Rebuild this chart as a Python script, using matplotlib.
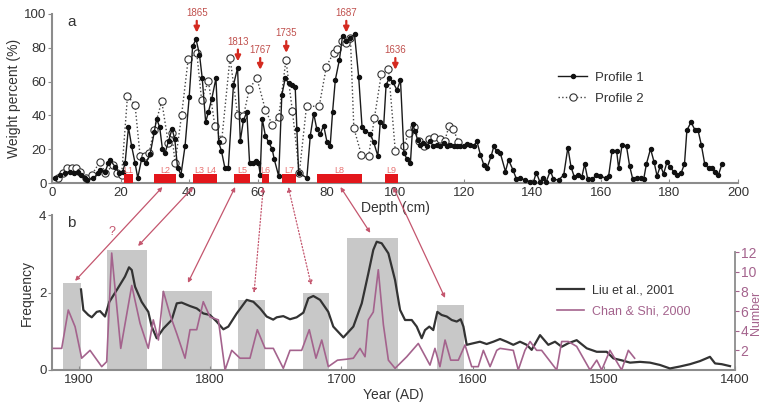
import matplotlib
matplotlib.use('Agg')
import matplotlib.pyplot as plt
from matplotlib.patches import ConnectionPatch

plt.rcParams['font.family'] = ['Liberation Sans', 'DejaVu Sans']

# ---------------- data: panel a ----------------
p1_depth = [0.9, 2.3, 3.8, 5.2, 6.4, 7.7, 8.6, 9.6, 10.1, 12.0, 13.5, 14.0, 15.5, 16.4, 16.9, 18.4,
            19.6, 20.6, 21.3, 22.3, 23.2, 24.2, 25.0, 26.1, 27.4, 28.6, 29.8, 30.5, 31.4, 32.2, 33.0,
            34.0, 35.0, 35.8, 36.6, 37.6, 38.8, 40.0, 41.0, 42.0, 43.0, 43.8, 44.8, 45.6, 46.6, 47.8,
            48.6, 49.4, 50.4, 51.4, 52.9, 54.1, 54.9, 55.8, 56.8, 57.6, 58.6, 59.4, 60.2, 60.7, 61.3,
            62.2, 63.2, 64.2, 64.8, 66.1, 67.0, 68.0, 69.0, 70.0, 70.9, 71.4, 71.9, 74.3, 75.3, 76.3,
            77.2, 78.2, 79.2, 80.2, 81.1, 81.8, 82.6, 83.8, 84.7, 85.8, 87.0, 88.2, 89.4, 90.4, 91.3,
            92.8, 93.8, 95.0, 95.7, 96.7, 97.4, 98.3, 99.3, 100.6, 101.6, 102.6, 103.5, 104.5, 105.2,
            105.8, 106.6, 107.4, 108.3, 109.3, 110.3, 111.2, 112.2, 113.2, 114.2, 115.1, 116.1, 117.1,
            118.1, 119.0, 120.0, 121.0, 122.0, 122.9, 123.9, 124.9, 125.9, 126.8, 128.0, 128.8, 129.7,
            130.7, 132.2, 133.1, 134.4, 135.4, 136.5, 138.0, 139.4, 140.4, 141.2, 142.2, 143.1, 144.1,
            145.3, 146.2, 147.7, 149.2, 150.4, 151.3, 152.3, 153.3, 154.5, 155.3, 156.2, 157.5, 158.7,
            159.9, 161.4, 162.3, 163.3, 164.6, 165.2, 166.2, 167.5, 168.4, 169.3, 170.6, 171.6, 172.5,
            173.3, 174.5, 175.5, 176.4, 177.4, 178.3, 179.3, 180.3, 181.2, 182.2, 183.4, 184.4, 185.1,
            186.3, 187.4, 188.3, 189.3, 190.3, 191.4, 192.4, 193.4, 194.3, 195.3]
p1_pct = [2.8, 4.7, 5.7, 6.7, 5.7, 6.7, 4.7, 2.8, 1.8, 2.8, 5.7, 7.7, 6.7, 11.6, 13.6, 9.7,
          5.7, 6.7, 11.6, 33, 22, 12, 3, 14, 12, 17, 30, 38, 33, 20, 18,
          25, 32, 26, 9, 5, 22, 51, 81, 85, 76, 62, 36, 42, 50, 62,
          24, 19, 9, 9, 58, 68, 25, 37, 42, 12, 12, 13, 12, 5, 38,
          28, 24, 20, 14, 4, 52, 62, 59, 58, 57, 32, 6, 3, 28, 41,
          32, 29, 34, 24, 22, 42, 61, 73, 87, 84, 86, 88, 63, 33, 31,
          29, 24, 16, 36, 34, 58, 62, 60, 55, 61, 18, 14, 12, 35,
          30.6, 25.6, 22.6, 23.6, 22, 24.6, 21.6, 22.6, 21.6, 23.6, 21.6, 22.2, 21.6,
          21.6, 22, 21.6, 23.2, 22.6, 22, 24.6, 16.7, 10.7, 8.7, 15.7, 21.6, 18.7,
          17.7, 6.8, 13.7, 7.7, 2.4, 2.8, 1.8, 0.8, 0.8, 6.2, 0.8, 2.8, 0.8,
          7.3, 2.2, 1.8, 4.8, 21, 9.7, 3.4, 4.8, 3.8, 11.3, 2.2, 2.2, 4.8,
          4.2, 2.8, 4.4, 19.2, 19.2, 8.7, 22.6, 21.6, 10.1, 2.4, 2.8, 2.8, 2.2,
          11.3, 20.2, 12.7, 4.2, 10.3, 5.4, 12.3, 9.3, 6.8, 4.8, 5.8, 11.3, 31.2,
          36, 31.6, 31.6, 22.6, 11.3, 8.7, 8.7, 6.8, 4.8, 11.1]

p2_depth = [1.8, 3.3, 4.3, 5.7, 7.0, 8.2, 9.9, 11.6, 14.0, 15.5, 17.9, 19.0, 20.3, 22.0, 24.2,
            25.7, 27.1, 28.3, 29.7, 32.0, 33.9, 34.9, 35.9, 37.8, 39.7, 42.2, 43.6, 45.6, 47.5,
            49.5, 51.9, 54.1, 55.8, 57.5, 59.7, 62.2, 64.2, 66.1, 68.2, 70.1, 72.1, 74.2, 77.9,
            80.0, 82.1, 83.2, 84.5, 85.7, 87.0, 88.0, 90.2, 92.3, 94.0, 96.0, 98.1, 100.1, 102.5,
            104.0, 105.5, 107.0, 108.5, 110.0, 111.5, 113.0, 114.5, 115.8, 117.0, 118.5]
p2_pct = [2.8, 5.8, 8.7, 8.7, 8.7, 6.7, 2.8, 4.8, 12.7, 5.8, 10.7, 5.8, 4.8, 51.4, 46.4,
          15.7, 15.7, 17.7, 31.5, 48.4, 23.6, 29.6, 11.7, 40.5, 73.2, 77.2, 49.4, 60.3, 33.5,
          25.6, 74.2, 40.5, 39.5, 55.4, 62.3, 43.4, 34.5, 39.1, 72.8, 42.4, 5.8, 45.4, 45.4,
          68.9, 77.2, 79.2, 84.1, 83.1, 86, 32.5, 16.7, 15.7, 38.5, 64.3, 67.3, 18.7, 21.6,
          29.6, 33, 25, 22, 26, 27, 26, 25, 34, 32, 24]

layer_names = ['L1', 'L2', 'L3', 'L4', 'L5', 'L6', 'L7', 'L8', 'L9']
layer_top = [21.0, 29.7, 41.1, 44.6, 53.0, 61.1, 67.0, 77.2, 97.1]
layer_bottom = [23.6, 36.1, 44.6, 48.1, 57.7, 63.4, 71.2, 90.4, 101.0]

peak_years = ['1865', '1813', '1767', '1735', '1687', '1636']
peak_depth = [42.2, 54.2, 60.7, 68.3, 85.8, 100.1]
peak_value = [89, 72, 67, 77, 89, 67]

# ---------------- data: panel b ----------------
liu_year = [1898.5, 1896.7, 1892.9, 1890.3, 1886.5, 1884.0, 1880.2, 1876.9, 1871.3, 1865.0, 1861.9,
            1859.8, 1857.3, 1852.3, 1847.2, 1844.6, 1840.8, 1835.7, 1829.4, 1825.5, 1821.8, 1815.4,
            1810.3, 1805.3, 1800.2, 1795.1, 1790.0, 1786.2, 1779.8, 1772.2, 1767.1, 1762.0, 1757.0,
            1752.0, 1749.3, 1744.3, 1739.2, 1734.1, 1729.0, 1725.2, 1721.4, 1716.3, 1710.0, 1706.2,
            1698.5, 1690.9, 1684.5, 1679.5, 1675.7, 1673.1, 1669.3, 1664.2, 1659.1, 1655.3, 1651.5,
            1646.4, 1642.6, 1638.8, 1636.3, 1633.0, 1630.0, 1626.9, 1623.6, 1619.7, 1615.9, 1612.1,
            1609.1, 1607.0, 1604.5, 1599.5, 1594.4, 1589.3, 1584.2, 1579.1, 1574.0, 1569.0, 1563.9,
            1558.8, 1555.0, 1548.6, 1542.3, 1537.2, 1532.1, 1527.1, 1520.7, 1513.0, 1505.4, 1497.8,
            1492.7, 1486.4, 1480.0, 1472.4, 1464.8, 1457.2, 1449.6, 1442.0, 1434.3, 1426.7, 1419.1,
            1415.2, 1410.1, 1403.8]
liu_freq = [2.08, 1.55, 1.42, 1.36, 1.50, 1.52, 1.38, 1.76, 2.06, 2.41, 2.65,
            2.58, 2.15, 1.76, 1.50, 1.12, 0.82, 1.07, 1.29, 1.72, 1.74, 1.65,
            1.59, 1.46, 1.42, 1.25, 1.05, 1.12, 1.46, 1.81, 1.76, 1.59, 1.38,
            1.30, 1.36, 1.39, 1.31, 1.36, 1.48, 1.85, 1.91, 1.81, 1.50, 1.12,
            0.84, 1.12, 1.72, 2.49, 3.10, 3.31, 3.27, 3.01, 2.32, 1.55, 1.29,
            1.29, 1.12, 0.82, 1.03, 1.12, 1.03, 1.50, 1.42, 1.38, 1.29, 1.25,
            1.31, 1.12, 0.65, 0.69, 0.73, 0.67, 0.73, 0.80, 0.73, 0.65, 0.73,
            0.65, 0.52, 0.90, 0.65, 0.73, 0.60, 0.69, 0.77, 0.56, 0.47, 0.47,
            0.30, 0.25, 0.19, 0.21, 0.19, 0.13, 0.04, 0.09, 0.15, 0.23, 0.34,
            0.17, 0.15, 0.10]

chan_year = [1919.6, 1913.2, 1908.2, 1903.0, 1898.0, 1891.6, 1882.7, 1878.9, 1875.1, 1868.2, 1859.8,
             1853.5, 1847.2, 1843.4, 1839.5, 1835.7, 1830.6, 1825.5, 1819.2, 1815.4, 1810.3, 1805.3,
             1800.2, 1793.8, 1788.7, 1783.6, 1777.3, 1769.7, 1764.1, 1758.2, 1751.9, 1744.3, 1739.2,
             1730.3, 1724.5, 1719.4, 1715.0, 1710.0, 1703.0, 1696.0, 1690.9, 1685.8, 1682.0, 1679.5,
             1675.7, 1671.9, 1668.0, 1664.2, 1659.1, 1650.2, 1641.4, 1632.5, 1628.7, 1624.9, 1621.0,
             1616.7, 1610.9, 1605.8, 1600.7, 1595.7, 1591.8, 1586.7, 1581.6, 1579.1, 1569.0, 1565.2,
             1560.1, 1556.2, 1551.2, 1547.4, 1535.9, 1532.1, 1527.1, 1520.7, 1510.5, 1505.4, 1501.6,
             1495.3, 1486.4, 1481.3, 1476.5]
chan_num = [2.2, 2.2, 6.1, 4.4, 1.2, 2.0, 0.34, 0.85, 11.9, 2.2, 8.6,
            4.75, 2.2, 5.1, 3.05, 8.0, 5.6, 3.7, 1.2, 4.1, 4.1, 6.95,
            5.4, 5.1, 0.0, 2.0, 1.2, 1.2, 4.1, 2.2, 2.2, 0.17, 2.0,
            2.0, 4.1, 1.2, 3.05, 0.34, 1.0, 1.1, 1.2, 2.2, 1.35, 5.1,
            5.9, 10.2, 4.6, 1.0, 0.17, 1.35, 2.7, 0.5, 2.2, 0.34, 3.05,
            1.0, 1.0, 2.55, 0.34, 0.34, 2.0, 0.34, 2.0, 2.2, 2.0, 0.0,
            2.0, 2.9, 2.0, 2.0, 0.0, 2.9, 2.9, 2.4, 0.0, 1.0, 0.0,
            2.0, 0.0, 2.0, 1.2]

period_start = [1912.4, 1878.4, 1837.0, 1778.6, 1729.5, 1696.0, 1627.4]
period_end = [1898.5, 1848.4, 1798.9, 1758.0, 1709.2, 1657.0, 1606.6]
period_height = [2.25, 3.1, 2.05, 1.81, 1.99, 3.4, 1.68]

# links: depth of layer (panel a) -> (year, frequency) in panel b
link_depth = [32.2, 41.2, 53.4, 61.6, 68.9, 84.1, 99.5]
link_year = [1903.0, 1855.0, 1817.0, 1766.6, 1723.0, 1678.0, 1621.0]
link_freq = [2.3, 3.2, 2.25, 1.99, 2.19, 3.54, 1.86]
link_style = ['-', '-', '-', ':', ':', '-', '-']

# ---------------- styling ----------------
AX = '#8c8c8c'
TXT = '#333333'
RED = '#e3161b'
PEAKTXT = '#c0504d'
PURPLE = '#a4638d'
LINK = '#c4566e'

fig = plt.figure(figsize=(7.62, 4.05), dpi=100)
W, H = 762.0, 405.0
ax1 = fig.add_axes([52 / W, (H - 183) / H, 686 / W, 169 / H])
ax2 = fig.add_axes([52 / W, (H - 370) / H, 683 / W, 155 / H])
ax3 = ax2.twinx()

# ---- panel a ----
ax1.set_xlim(0, 200)
ax1.set_ylim(0, 100)
ax1.plot(p2_depth, p2_pct, linestyle=':', color='#444444', lw=1.0, marker='o', ms=5.2,
         mfc='white', mec='#333333', mew=0.8, label='Profile 2', zorder=3, clip_on=False)
ax1.plot(p1_depth, p1_pct, linestyle='-', color='#1a1a1a', lw=1.0, marker='o', ms=2.9,
         mfc='#111111', mec='#111111', label='Profile 1', zorder=4, clip_on=False)
widths = [b - t for t, b in zip(layer_top, layer_bottom)]
ax1.bar(layer_top, [5.5] * len(layer_top), width=widths, bottom=0, align='edge',
        color=RED, zorder=5)
for name, t, b in zip(layer_names, layer_top, layer_bottom):
    ax1.text((t + b) / 2, 4.6, name, fontsize=6.5, color='#e87070', ha='center',
             va='bottom', zorder=6)
text_off = 8.6
for yr, d, v in zip(peak_years, peak_depth, peak_value):
    ax1.annotate(yr, xy=(d, v), xytext=(d, v + text_off), fontsize=7, color=PEAKTXT,
                 ha='center', va='bottom', annotation_clip=False,
                 arrowprops=dict(arrowstyle='-|>', color='#d42a20', lw=1.6,
                                 mutation_scale=8, shrinkA=0, shrinkB=0))

for s in ['top', 'right']:
    ax1.spines[s].set_visible(False)
for s in ['left', 'bottom']:
    ax1.spines[s].set_color(AX)
    ax1.spines[s].set_linewidth(1.5)
ax1.set_xticks(range(0, 201, 20))
ax1.set_yticks(range(0, 101, 20))
ax1.tick_params(axis='x', direction='in', length=3, color=AX, labelcolor=TXT,
                labelsize=9.5, pad=3)
ax1.tick_params(axis='y', direction='out', length=3, color=AX, labelcolor=TXT,
                labelsize=9.5, pad=1)
ax1.set_xlabel('Depth (cm)', fontsize=10, color=TXT, labelpad=1)
ax1.set_ylabel('Weight percent (%)', fontsize=10, color=TXT, labelpad=2)
ax1.text(0.022, 0.955, 'a', transform=ax1.transAxes, fontsize=11, color=TXT,
         ha='left', va='center')
h2, h1 = ax1.get_legend_handles_labels()[0]
leg1 = ax1.legend(handles=[h1, h2], labels=['Profile 1', 'Profile 2'], loc='upper left',
                  bbox_to_anchor=(0.7376, 0.66), frameon=False, fontsize=9.5,
                  handlelength=2.2, handletextpad=0.6, labelspacing=0.65,
                  borderpad=0, borderaxespad=0, labelcolor=TXT)

# ---- panel b ----
ax2.set_xlim(1920.6, 1400)
ax2.set_ylim(0, 4)
pw = [s - e for s, e in zip(period_start, period_end)]
ax2.bar(period_end, period_height, width=pw, align='edge', color='#c8c8c8', zorder=1)
l_liu, = ax2.plot(liu_year, liu_freq, color='#333333', lw=1.6, zorder=3,
                  label='Liu et al., 2001')
ax3.set_ylim(0, 15.77)
l_chan, = ax3.plot(chan_year, chan_num, color=PURPLE, lw=1.2, zorder=2,
                   label='Chan & Shi, 2000')

for s in ['top', 'right']:
    ax2.spines[s].set_visible(False)
for s in ['left', 'bottom']:
    ax2.spines[s].set_color(AX)
    ax2.spines[s].set_linewidth(1.5)
for s in ['top', 'left', 'bottom']:
    ax3.spines[s].set_visible(False)
ax3.spines['right'].set_color(AX)
ax3.spines['right'].set_linewidth(1.3)
ax3.spines['right'].set_bounds(0, 12)

ax2.set_xticks([1900, 1800, 1700, 1600, 1500, 1400])
ax2.set_yticks([0, 2, 4])
ax2.tick_params(axis='x', direction='in', length=3, color=AX, labelcolor=TXT,
                labelsize=9.5, pad=3)
ax2.tick_params(axis='y', direction='out', length=3, color=AX, labelcolor=TXT,
                labelsize=9.5, pad=1)
ax3.set_yticks([2, 4, 6, 8, 10, 12])
ax3.tick_params(axis='y', direction='out', length=3, color=PURPLE, labelcolor=PURPLE,
                labelsize=10, pad=1)
ax2.set_xlabel('Year (AD)', fontsize=10, color=TXT, labelpad=1)
ax2.set_ylabel('Frequency', fontsize=10, color=TXT, labelpad=4)
ax3.set_ylabel('Number', fontsize=9, color=PURPLE)
ax3.yaxis.set_label_coords(1.0225, 0.368)
ax2.text(0.022, 0.948, 'b', transform=ax2.transAxes, fontsize=11, color=TXT,
         ha='left', va='center')
ax3.legend(handles=[l_liu, l_chan], loc='upper left', bbox_to_anchor=(0.739, 0.55),
           frameon=False, fontsize=9, handlelength=2.2, handletextpad=0.6,
           labelspacing=0.7, borderpad=0, borderaxespad=0, labelcolor='linecolor')

# ---- links between the panels ----
for d, yr, fq, ls in zip(link_depth, link_year, link_freq, link_style):
    con = ConnectionPatch(xyA=(d, -2.4), coordsA=ax1.transData,
                          xyB=(yr, fq), coordsB=ax2.transData,
                          arrowstyle='<|-|>', color=LINK, lw=0.9, linestyle=ls,
                          mutation_scale=6, shrinkA=0, shrinkB=0, zorder=10)
    fig.add_artist(con)
ax2.text(1875.0, 3.57, '?', fontsize=9, color=LINK, ha='center', va='center')

fig.savefig('out.png', dpi=100, facecolor='white')
